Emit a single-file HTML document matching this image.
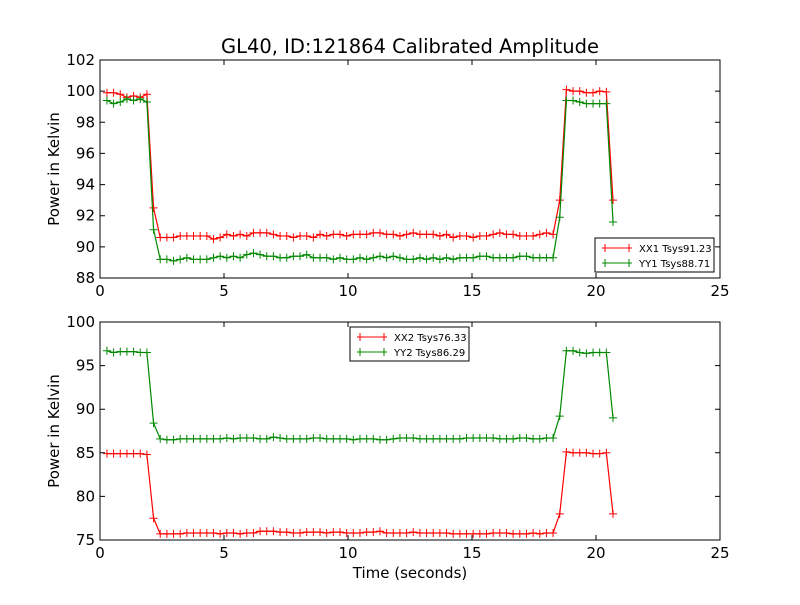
<!DOCTYPE html>
<html><head><meta charset="utf-8"><style>
body{margin:0;background:#fff;}
text{font-family:"DejaVu Sans","Liberation Sans",sans-serif;}
</style></head><body>
<svg id="c" width="800" height="600" xmlns="http://www.w3.org/2000/svg">
<rect width="800" height="600" fill="#fff"/>
<text x="410" y="53" font-size="19.5" text-anchor="middle">GL40, ID:121864 Calibrated Amplitude</text>
<g id="g1"></g>
<g id="g2"></g>
<text x="410" y="578" font-size="15" text-anchor="middle">Time (seconds)</text>
</svg>
<script>
const t0 = 0.28, dt = 0.2685;
const xx1 = [99.9,99.9,99.8,99.6,99.7,99.6,99.8,92.5,
 90.6,90.6,90.6,90.7,90.7,90.7,90.7,90.7,90.5,90.6,90.8,90.7,90.8,90.7,90.9,90.9,90.9,90.8,90.7,90.7,90.6,90.7,90.7,90.6,90.8,90.7,90.8,90.8,90.7,90.8,90.8,90.8,90.9,90.9,90.8,90.8,90.7,90.8,90.9,90.8,90.8,90.8,90.7,90.8,90.6,90.7,90.7,90.6,90.7,90.7,90.8,90.9,90.8,90.8,90.7,90.7,90.7,90.8,90.9,
 90.8,93.0,100.1,100.0,100.0,99.9,99.9,100.0,99.95,93.0];
const yy1 = [99.4,99.2,99.3,99.5,99.4,99.5,99.3,91.1,
 89.2,89.2,89.1,89.2,89.3,89.2,89.2,89.2,89.3,89.4,89.3,89.4,89.3,89.5,89.6,89.5,89.4,89.4,89.3,89.3,89.4,89.4,89.5,89.3,89.3,89.3,89.2,89.3,89.2,89.2,89.3,89.2,89.3,89.4,89.3,89.4,89.3,89.2,89.2,89.3,89.2,89.3,89.2,89.3,89.2,89.3,89.3,89.3,89.4,89.4,89.3,89.3,89.3,89.3,89.4,89.4,89.3,89.3,89.3,
 89.3,91.9,99.4,99.4,99.3,99.2,99.2,99.2,99.2,91.6];
const xx2 = [84.9,84.9,84.9,84.9,84.9,84.9,84.8,77.5,
 75.7,75.7,75.7,75.7,75.8,75.8,75.8,75.8,75.8,75.7,75.8,75.8,75.7,75.8,75.8,76.0,76.0,76.0,75.9,75.9,75.8,75.8,75.9,75.9,75.9,75.8,75.9,75.9,75.8,75.8,75.8,75.9,75.9,76.0,75.8,75.8,75.8,75.8,75.9,75.8,75.8,75.8,75.8,75.8,75.7,75.7,75.7,75.7,75.7,75.7,75.8,75.8,75.8,75.7,75.7,75.7,75.8,75.7,75.8,
 75.8,78.0,85.1,85.0,85.0,85.0,84.9,84.9,85.0,78.0];
const yy2 = [96.7,96.5,96.6,96.6,96.6,96.5,96.5,88.4,
 86.6,86.5,86.5,86.6,86.6,86.6,86.6,86.6,86.6,86.6,86.7,86.6,86.7,86.7,86.7,86.6,86.6,86.8,86.7,86.6,86.6,86.6,86.6,86.7,86.7,86.6,86.6,86.6,86.6,86.5,86.6,86.6,86.6,86.5,86.5,86.6,86.7,86.7,86.7,86.6,86.6,86.6,86.6,86.6,86.6,86.6,86.7,86.7,86.7,86.7,86.7,86.6,86.6,86.6,86.7,86.7,86.6,86.6,86.7,
 86.7,89.2,96.7,96.7,96.5,96.4,96.5,96.5,96.5,89.0];
const xTicks = [0,5,10,15,20,25];
const yTicks1 = [88,90,92,94,96,98,100,102];
const yTicks2 = [75,80,85,90,95,100];
const NS="http://www.w3.org/2000/svg";
function mk(tag,attrs,parent){const e=document.createElementNS(NS,tag);for(const k in attrs)e.setAttribute(k,attrs[k]);parent.appendChild(e);return e;}
function panel(g,top,bot,ymin,ymax,yTicks,series,leg){
  const L=100,R=720;
  const xs=v=>L+(v-0)/(25-0)*(R-L);
  const ys=v=>bot-(v-ymin)/(ymax-ymin)*(bot-top);
  series.forEach(s=>{
    const pts=s.data.map((v,i)=>[xs(t0+i*dt),ys(v)]);
    const pl=mk('polyline',{points:pts.map(p=>p.join(',')).join(' '),fill:'none',stroke:s.color,'stroke-width':1.2},g);
    
    
    pts.forEach(p=>{
      const m=mk('path',{d:`M${p[0]-4},${p[1]}h8M${p[0]},${p[1]-4}v8`,stroke:s.color,'stroke-width':1},g);
      
      
    });
  });
  const fr=mk('rect',{x:L,y:top,width:R-L,height:bot-top,fill:'none',stroke:'#000','stroke-width':1},g);
  
  
  xTicks.forEach(v=>{
    const x=xs(v);
    mk('path',{d:`M${x},${bot}v-5M${x},${top}v5`,stroke:'#000'},g);
    const t=mk('text',{x:x,y:bot+18,'font-size':15,'text-anchor':'middle'},g);t.textContent=v;
    
    
  });
  yTicks.forEach(v=>{
    const y=ys(v);
    mk('path',{d:`M${L},${y}h5M${R},${y}h-5`,stroke:'#000'},g);
    const t=mk('text',{x:L-5,y:y+5,'font-size':15,'text-anchor':'end'},g);t.textContent=v;
    
    
  });
  const yt=mk('text',{x:59,y:(top+bot)/2,'font-size':15,'text-anchor':'middle',transform:`rotate(-90 59 ${(top+bot)/2})`},g);
  yt.textContent='Power in Kelvin';
  
  
  const lg=mk('g',{},g);
  
  
  mk('rect',{x:leg[0],y:leg[1],width:119,height:34,fill:'#fff',stroke:'#000'},lg);
  series.forEach((s,i)=>{
    const y=leg[1]+10+i*15;
    mk('path',{d:`M${leg[0]+7},${y}h30M${leg[0]+10},${y-4}v8M${leg[0]+34},${y-4}v8`,stroke:s.color},lg);
    const t=mk('text',{x:leg[0]+44,y:y+4,'font-size':10},lg);t.textContent=s.label;
    
    
  });
}
panel(document.getElementById('g1'),60,278,88,102,yTicks1,
  [{data:xx1,color:'#f00',name:'xx1',label:'XX1 Tsys91.23'},{data:yy1,color:'#080',name:'yy1',label:'YY1 Tsys88.71'}],[595,238]);
panel(document.getElementById('g2'),322,540,75,100,yTicks2,
  [{data:xx2,color:'#f00',name:'xx2',label:'XX2 Tsys76.33'},{data:yy2,color:'#080',name:'yy2',label:'YY2 Tsys86.29'}],[350,327]);
</script>
</body></html>
